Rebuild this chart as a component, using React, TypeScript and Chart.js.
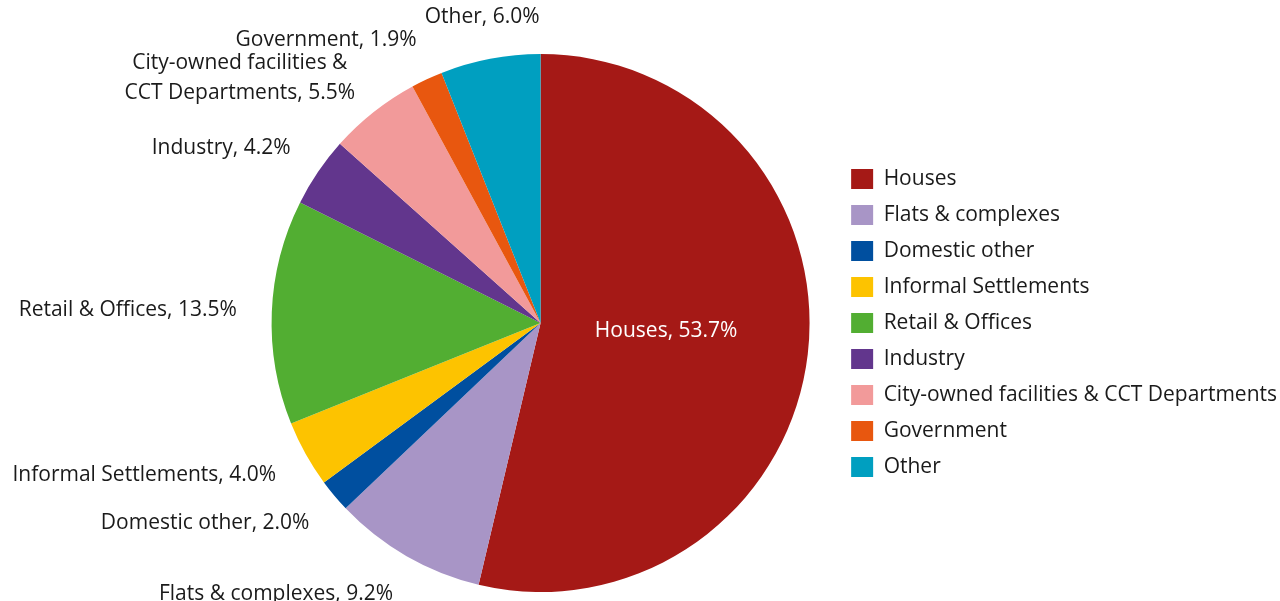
import React, { useEffect, useRef } from "react";
import { Chart, registerables } from "chart.js";

Chart.register(...registerables);

const categories = [
  "Houses",
  "Flats & complexes",
  "Domestic other",
  "Informal Settlements",
  "Retail & Offices",
  "Industry",
  "City-owned facilities & CCT Departments",
  "Government",
  "Other",
];
const shares = [53.7, 9.2, 2.0, 4.0, 13.5, 4.2, 5.5, 1.9, 6.0];
const colors = [
  "#A51916",
  "#A895C6",
  "#004F9F",
  "#FDC300",
  "#52AE32",
  "#62368D",
  "#F29A9A",
  "#E8570F",
  "#009FC0",
];

const FONT = "'Open Sans', sans-serif";
const FONT_SIZE = 21;

function wrap(ctx: CanvasRenderingContext2D, text: string, maxW: number): string[] {
  if (ctx.measureText(text).width <= maxW) return [text];
  const words = text.split(" ");
  let best: string[] = [text];
  let bestW = Infinity;
  for (let k = 1; k < words.length; k++) {
    const a = words.slice(0, k).join(" ");
    const b = words.slice(k).join(" ");
    const w = Math.max(ctx.measureText(a).width, ctx.measureText(b).width);
    if (w < bestW) {
      bestW = w;
      best = [a, b];
    }
  }
  return best;
}

const labelPlugin = {
  id: "sliceLabels",
  afterDatasetsDraw(chart: any) {
    const ctx: CanvasRenderingContext2D = chart.ctx;
    const meta = chart.getDatasetMeta(0);
    ctx.save();
    ctx.font = `${FONT_SIZE}px ${FONT}`;
    ctx.textBaseline = "middle";
    ctx.textAlign = "center";
    meta.data.forEach((arc: any, i: number) => {
      const { x, y, startAngle, endAngle, outerRadius } = arc.getProps(
        ["x", "y", "startAngle", "endAngle", "outerRadius"],
        true
      );
      const mid = (startAngle + endAngle) / 2;
      const ux = Math.cos(mid);
      const uy = Math.sin(mid);
      const text = `${categories[i]}, ${shares[i].toFixed(1)}%`;
      if (shares[i] > 30) {
        ctx.fillStyle = "#ffffff";
        ctx.fillText(text, x + ux * outerRadius * 0.47, y + uy * outerRadius * 0.25);
        return;
      }
      const lines = wrap(ctx, text, 360);
      const lineH = 30;
      const ax = x + ux * (outerRadius + 43);
      const ay = y + uy * (outerRadius + 43);
      const w = Math.max(...lines.map((l) => ctx.measureText(l).width));
      let cx: number;
      if (Math.abs(ux) < 0.3) cx = ax;
      else if (ux < 0) cx = ax + 8 - w / 2;
      else cx = ax - 8 + w / 2;
      ctx.fillStyle = "#1a1a1a";
      lines.forEach((l, k) => {
        ctx.fillText(l, cx, ay + (k - (lines.length - 1) / 2) * lineH);
      });
    });
    ctx.restore();
  },
};

export default function App() {
  const ref = useRef<HTMLCanvasElement | null>(null);
  useEffect(() => {
    document.body.style.margin = "0";
    const canvas = ref.current;
    if (!canvas) return;
    const chart = new Chart(canvas, {
      type: "pie",
      data: {
        labels: categories,
        datasets: [
          {
            data: shares,
            backgroundColor: colors,
            borderWidth: 0,
          },
        ],
      },
      options: {
        animation: false,
        responsive: false,
        maintainAspectRatio: false,
        layout: { padding: { top: 54, bottom: 9, left: 245, right: -7 } },
        plugins: {
          tooltip: { enabled: false },
          legend: {
            position: "right",
            align: "center",
            labels: {
              boxWidth: 22,
              boxHeight: 20,
              padding: 15,
              color: "#1a1a1a",
              font: { family: FONT, size: FONT_SIZE },
            },
          },
        },
      },
      plugins: [labelPlugin],
    });
    return () => chart.destroy();
  }, []);
  return (
    <div style={{ width: 1280, height: 601, overflow: "hidden", background: "#fff" }}>
      <canvas ref={ref} width={1280} height={601} style={{ display: "block" }} />
    </div>
  );
}
